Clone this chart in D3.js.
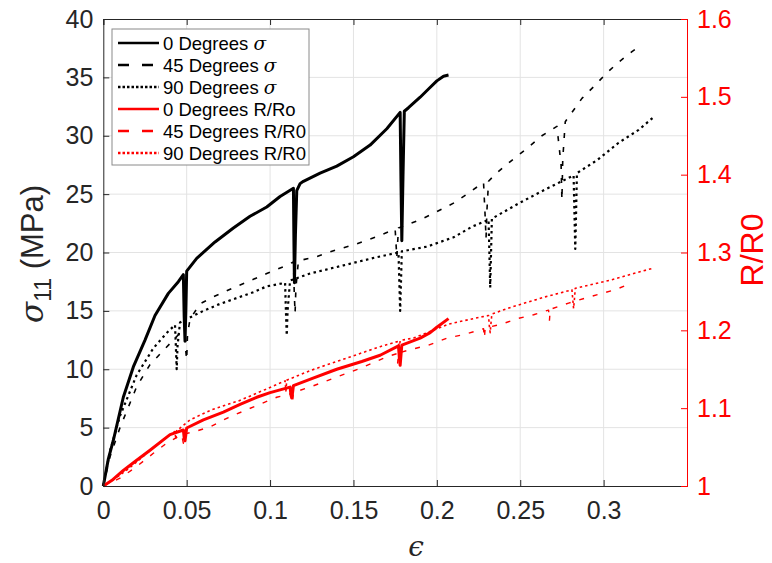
<!DOCTYPE html>
<html>
<head>
<meta charset="utf-8">
<script src="https://cdn.jsdelivr.net/npm/d3@7"></script>
<style>
  body { margin: 0; background: #fff; }
  svg { font-family: "Liberation Sans", Arial, sans-serif; }
</style>
</head>
<body>
<div id="chart"></div>
<script>
// strain (epsilon) vs value pairs
const sigma0 = [[0,0],[0.003,2.3],[0.006,3.9],[0.012,7.6],[0.018,10.2],[0.025,12.5],[0.031,14.6],[0.039,16.5],[0.045,17.5],[0.048,18.1],
  [0.0485,14.5],[0.049,12.4],[0.0495,15],[0.05,18.4],[0.056,19.5],[0.067,20.9],[0.078,22.1],[0.088,23.1],[0.098,23.9],[0.106,24.8],[0.114,25.5],
  [0.1143,21],[0.1146,17.4],[0.1152,21.5],[0.116,25.3],[0.118,25.9],[0.12,26.1],[0.13,26.8],[0.14,27.4],[0.15,28.2],[0.16,29.2],[0.17,30.6],[0.178,32],
  [0.1785,26],[0.179,21],[0.1797,26.5],[0.1805,32.1],[0.183,32.4],[0.19,33.3],[0.195,34],[0.2,34.7],[0.204,35.1],[0.207,35.2]];

const sigma45 = [[0,0],[0.004,2.5],[0.01,5],[0.02,8.5],[0.028,10.4],[0.038,11.9],[0.046,13.1],[0.049,13.8],
  [0.0495,11.5],[0.05,10.8],[0.0505,13],[0.052,14.3],[0.058,15.6],[0.066,16.2],[0.08,17.1],[0.09,17.7],[0.098,18.2],[0.11,18.9],[0.114,19.2],
  [0.1145,16.5],[0.115,14.8],[0.1155,17],[0.117,19.3],[0.127,19.6],[0.139,20.2],[0.151,20.7],[0.163,21.3],[0.175,22],
  [0.176,19.6],[0.177,22.1],[0.19,22.8],[0.2,23.5],[0.211,24.3],[0.221,25.3],[0.228,26],
  [0.229,23],[0.2295,21.2],[0.23,23.5],[0.231,26.1],[0.235,26.7],[0.245,27.9],[0.254,28.9],[0.263,30],[0.272,30.8],
  [0.2745,27.5],[0.275,24.5],[0.2755,28],[0.277,31.2],[0.287,33.2],[0.294,34.2],[0.302,35.4],[0.309,36.3],[0.317,37.2],[0.32,37.5]];

const sigma90 = [[0,0],[0.004,3],[0.01,6],[0.02,9.5],[0.03,11.8],[0.038,13.1],[0.043,13.8],
  [0.0435,12],[0.044,10],[0.0445,12],[0.046,14],[0.05,14.3],[0.06,15],[0.07,15.6],[0.08,16.1],[0.09,16.6],[0.098,17.1],[0.109,17.4],
  [0.1095,15],[0.11,12.9],[0.1105,15],[0.112,17.6],[0.124,18.2],[0.144,18.9],[0.164,19.6],[0.177,20],
  [0.1775,17.5],[0.178,15],[0.1785,17.5],[0.179,20.1],[0.194,20.5],[0.21,21.3],[0.221,22.2],[0.231,22.8],
  [0.2315,20],[0.232,17],[0.2325,20],[0.233,22.9],[0.249,24.2],[0.265,25.4],[0.282,26.6],
  [0.2825,23.5],[0.283,20.3],[0.2835,23.5],[0.284,26.8],[0.296,27.9],[0.309,29.4],[0.321,30.5],[0.33,31.6]];

const ratio0 = [[0,1],[0.005,1.007],[0.012,1.02],[0.02,1.033],[0.028,1.046],[0.04,1.066],[0.048,1.072],
  [0.0485,1.062],[0.049,1.058],[0.0495,1.066],[0.05,1.0745],[0.06,1.085],[0.072,1.095],[0.082,1.105],[0.092,1.114],[0.1,1.12],[0.112,1.127],
  [0.1125,1.117],[0.113,1.113],[0.1135,1.12],[0.114,1.129],[0.125,1.138],[0.14,1.15],[0.155,1.16],[0.166,1.168],[0.177,1.18],
  [0.1775,1.165],[0.178,1.155],[0.1785,1.168],[0.179,1.181],[0.19,1.19],[0.196,1.197],[0.2,1.204],[0.207,1.215]];

const ratio45 = [[0,1],[0.01,1.01],[0.02,1.025],[0.03,1.042],[0.038,1.055],[0.047,1.066],
  [0.048,1.055],[0.049,1.067],[0.055,1.07],[0.064,1.076],[0.075,1.088],[0.086,1.098],[0.095,1.106],[0.104,1.114],[0.113,1.119],
  [0.1135,1.108],[0.114,1.12],[0.125,1.128],[0.14,1.14],[0.155,1.152],[0.17,1.166],[0.176,1.17],
  [0.1765,1.158],[0.177,1.171],[0.182,1.174],[0.195,1.181],[0.206,1.19],[0.217,1.195],[0.228,1.202],
  [0.2285,1.19],[0.229,1.203],[0.239,1.208],[0.248,1.215],[0.258,1.22],[0.267,1.226],
  [0.2675,1.212],[0.268,1.227],[0.279,1.235],[0.29,1.242],[0.3,1.248],[0.308,1.253],[0.317,1.261]];

const ratio90 = [[0,1],[0.006,1.008],[0.015,1.022],[0.025,1.04],[0.035,1.058],[0.043,1.07],
  [0.0435,1.06],[0.044,1.071],[0.052,1.085],[0.065,1.098],[0.082,1.11],[0.095,1.122],[0.109,1.135],
  [0.1095,1.122],[0.11,1.136],[0.125,1.149],[0.14,1.16],[0.155,1.171],[0.166,1.179],[0.177,1.186],
  [0.1775,1.176],[0.178,1.187],[0.186,1.19],[0.207,1.208],[0.226,1.217],[0.231,1.219],
  [0.2315,1.205],[0.232,1.197],[0.2325,1.21],[0.233,1.221],[0.245,1.23],[0.265,1.243],[0.281,1.252],
  [0.2815,1.24],[0.282,1.228],[0.2825,1.24],[0.283,1.254],[0.295,1.26],[0.305,1.265],[0.318,1.273],[0.33,1.28]];

const xTicks = [0, 0.05, 0.1, 0.15, 0.2, 0.25, 0.3];
const yLeftTicks = [0, 5, 10, 15, 20, 25, 30, 35, 40];
const yRightTicks = [1, 1.1, 1.2, 1.3, 1.4, 1.5, 1.6];
const legendNames = ['0 Degrees ', '45 Degrees ', '90 Degrees ', '0 Degrees R/Ro', '45 Degrees R/R0', '90 Degrees R/R0'];

const W = 772, H = 563;
const svg = d3.select('#chart').append('svg').attr('width', W).attr('height', H);

const x = d3.scaleLinear().domain([0, 0.35]).range([103.3, 687]);
const yL = d3.scaleLinear().domain([0, 40]).range([486, 19]);
const yR = d3.scaleLinear().domain([1, 1.6]).range([486, 19]);

// grid
svg.append('g').selectAll('line').data(xTicks.slice(1)).join('line')
  .attr('x1', d => x(d)).attr('x2', d => x(d)).attr('y1', yL(0)).attr('y2', yL(40))
  .attr('stroke', '#e3e3e3').attr('stroke-width', 1);
svg.append('g').selectAll('line').data(yLeftTicks.slice(1, -1)).join('line')
  .attr('x1', x(0)).attr('x2', x(0.35)).attr('y1', d => yL(d)).attr('y2', d => yL(d))
  .attr('stroke', '#e3e3e3').attr('stroke-width', 1);

const series = [
  { data: sigma0, y: yL, color: '#000', width: 3, dash: null },
  { data: sigma45, y: yL, color: '#000', width: 1.6, dash: '5,9' },
  { data: sigma90, y: yL, color: '#000', width: 2.2, dash: '2.5,3.5' },
  { data: ratio0, y: yR, color: '#ff0000', width: 3, dash: null },
  { data: ratio45, y: yR, color: '#ff0000', width: 1.4, dash: '5,9' },
  { data: ratio90, y: yR, color: '#ff0000', width: 1.6, dash: '2.5,3' }
];

const plot = svg.append('g');
// draw dashed/dotted first, solid on top
[1, 2, 4, 5, 0, 3].forEach(i => {
  const s = series[i];
  const line = d3.line().curve(d3.curveLinear).x(d => x(d[0])).y(d => s.y(d[1]));
  plot.append('path').datum(s.data)
    .attr('fill', 'none').attr('stroke', s.color).attr('stroke-width', s.width)
    .attr('stroke-dasharray', s.dash).attr('stroke-linejoin', 'round')
    .attr('d', line);
});

// axes
const fs = 25;
const gx = svg.append('g').attr('transform', `translate(0,${yL(0)})`)
  .call(d3.axisBottom(x).tickValues(xTicks).tickSize(-6).tickPadding(15).tickFormat(d3.format('~g')));
const gxTop = svg.append('g').attr('transform', `translate(0,${yL(40)})`)
  .call(d3.axisTop(x).tickValues(xTicks).tickSize(-6).tickFormat(''));
const gyl = svg.append('g').attr('transform', `translate(${x(0)},0)`)
  .call(d3.axisLeft(yL).tickValues(yLeftTicks).tickSize(-6).tickPadding(10));
const gyr = svg.append('g').attr('transform', `translate(${x(0.35)},0)`)
  .call(d3.axisRight(yR).tickValues(yRightTicks).tickSize(-6).tickPadding(10).tickFormat(d3.format('~g')));

[gx, gxTop, gyl].forEach(g => {
  g.select('.domain').attr('stroke', '#262626').attr('stroke-width', 1);
  g.selectAll('.tick line').attr('stroke', '#262626');
  g.selectAll('text').attr('fill', '#262626').attr('font-size', fs).style('font-family', 'Liberation Sans, Arial, sans-serif');
});
gyr.select('.domain').attr('stroke', '#ff0000').attr('stroke-width', 1);
gyr.selectAll('.tick line').attr('stroke', '#ff0000');
gyr.selectAll('text').attr('fill', '#ff0000').attr('font-size', fs).style('font-family', 'Liberation Sans, Arial, sans-serif');

// axis labels
svg.append('text').attr('x', 416).attr('y', 556).attr('text-anchor', 'middle')
  .attr('font-size', 28).attr('font-style', 'italic').attr('font-family', 'DejaVu Serif, serif')
  .attr('fill', '#262626').text('\u03f5');

const yl = svg.append('text').attr('transform', 'translate(43,254) rotate(-90)')
  .attr('text-anchor', 'middle').attr('font-size', 31).attr('fill', '#262626');
yl.append('tspan').attr('font-style', 'italic').attr('font-family', 'DejaVu Serif, serif').text('\u03c3');
yl.append('tspan').attr('font-size', 23).attr('dy', 8).text('11');
yl.append('tspan').attr('dy', -8).text(' (MPa)');

svg.append('text').attr('transform', 'translate(763,250) rotate(-90)')
  .attr('text-anchor', 'middle').attr('font-size', 32).attr('fill', '#ff0000').text('R/R0');

// legend
const lg = svg.append('g');
lg.append('rect').attr('x', 112).attr('y', 29).attr('width', 197).attr('height', 136)
  .attr('fill', '#fff').attr('stroke', '#8a8a8a').attr('stroke-width', 1);
const legDash = [null, '11,13', '2.5,2', null, '11,13', '2.5,2'];
series.forEach((s, i) => {
  const yy = 43 + i * 22;
  lg.append('line').attr('x1', 118).attr('x2', 159).attr('y1', yy).attr('y2', yy)
    .attr('stroke', s.color).attr('stroke-width', 2.5).attr('stroke-dasharray', legDash[i]);
  const t = lg.append('text').attr('x', 163).attr('y', yy + 6.5).attr('font-size', 18.5).attr('fill', '#000');
  t.append('tspan').text(legendNames[i]);
  if (i < 3) t.append('tspan').attr('font-style', 'italic').attr('font-family', 'DejaVu Serif, serif').text('\u03c3');
});
</script>
</body>
</html>
